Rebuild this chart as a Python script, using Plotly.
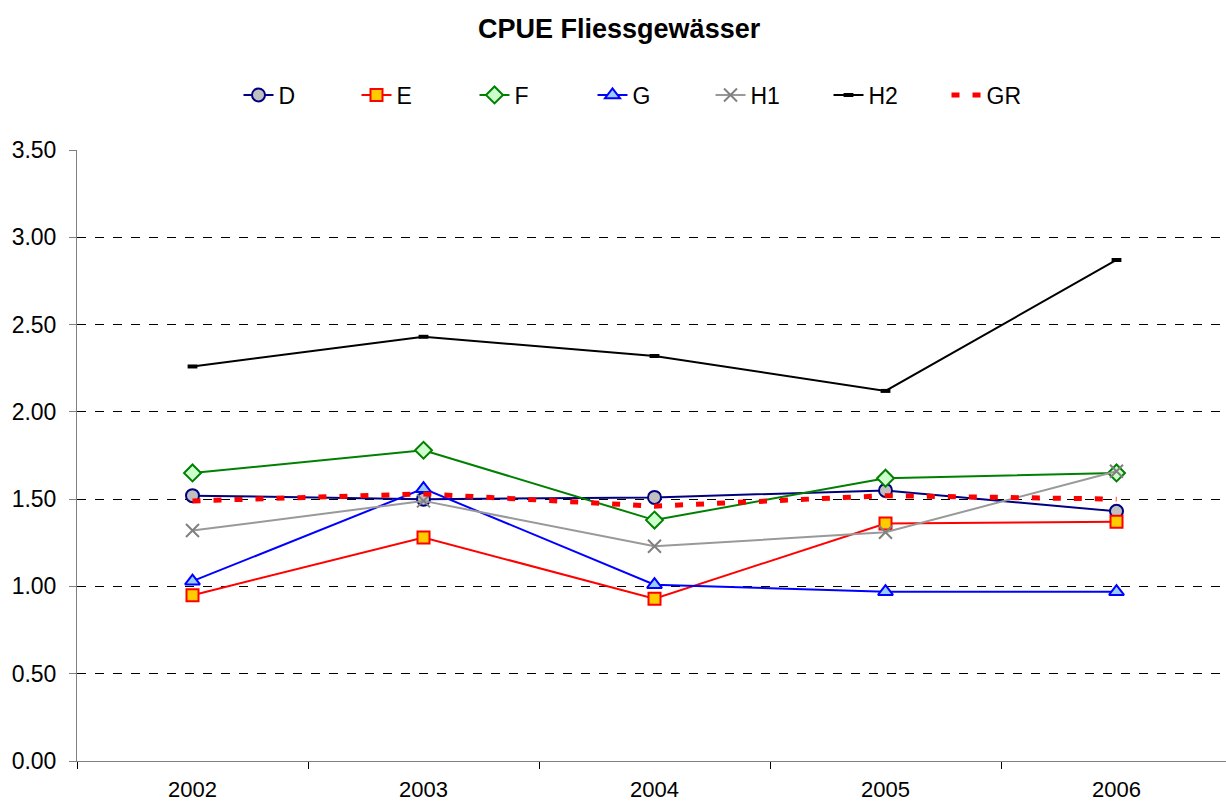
import plotly.graph_objects as go

years = ["2002", "2003", "2004", "2005", "2006"]

cpue_d = [1.52, 1.50, 1.51, 1.55, 1.43]
cpue_e = [0.95, 1.28, 0.93, 1.36, 1.37]
cpue_f = [1.65, 1.78, 1.38, 1.62, 1.65]
cpue_g = [1.03, 1.56, 1.01, 0.97, 0.97]
cpue_h1 = [1.32, 1.49, 1.23, 1.31, 1.66]
cpue_h2 = [2.26, 2.43, 2.32, 2.12, 2.87]
cpue_gr = [1.49, 1.53, 1.46, 1.52, 1.50]

y_ticks = [0, 0.5, 1.0, 1.5, 2.0, 2.5, 3.0, 3.5]

FONT = "Liberation Sans, Arial, sans-serif"

# name, values, line colour, line width, marker symbol, marker fill, marker edge, marker size
series = [
    ("D", cpue_d, "#000080", 2, "circle", "#C0C0C0", "#000080", 13),
    ("E", cpue_e, "#FF0000", 2, "square", "#FFCC00", "#FF0000", 12),
    ("F", cpue_f, "#008000", 2, "diamond", "#CCFFCC", "#008000", 13),
    ("G", cpue_g, "#0000FF", 2, "triangle-up", "#99CCFF", "#0000FF", 13),
    ("H1", cpue_h1, "#999999", 2, "x-thin", "#808080", "#808080", 13),
    ("H2", cpue_h2, "#000000", 2, "line-ew", "#000000", "#000000", 7),
]

fig = go.Figure()

for name, vals, lc, lw, sym, fill, edge, size in series:
    fig.add_trace(go.Scatter(
        x=years, y=vals, name=name,
        mode="lines+markers",
        line=dict(color=lc, width=lw),
        marker=dict(symbol=sym, size=size, color=fill,
                    line=dict(color=edge, width=2 if sym != "line-ew" else 4)),
    ))

fig.add_trace(go.Scatter(
    x=years, y=cpue_gr, name="GR",
    mode="lines",
    line=dict(color="#FF0000", width=5, dash="8px,13px"),
))

fig.update_layout(
    width=1226, height=805,
    paper_bgcolor="white", plot_bgcolor="white",
    font=dict(family=FONT, size=23, color="black"),
    title=dict(text="<b>CPUE Fliessgewässer</b>", x=0.505, xanchor="center",
               y=0.965, yanchor="middle", font=dict(size=27)),
    margin=dict(l=77, r=0, t=150, b=44),
    showlegend=True,
    legend=dict(orientation="h", x=0.5, xanchor="center", y=1.09, yanchor="middle",
                font=dict(size=23), entrywidth=73, entrywidthmode="pixels"),
)

fig.update_xaxes(
    type="category", range=[-0.5, 4.474],
    showline=True, linecolor="#808080", linewidth=1,
    ticks="outside", tickson="boundaries", ticklen=7, tickcolor="#000000",
    ticklabelstandoff=9, tickfont=dict(size=22),
    showgrid=False, zeroline=False, automargin=False,
)

fig.update_yaxes(
    range=[0, 3.5], tickvals=y_ticks, tickformat=".2f",
    showline=True, linecolor="#808080", linewidth=1,
    ticks="outside", ticklen=7, tickcolor="#808080",
    ticklabelstandoff=8,
    showgrid=True, gridcolor="#000000", gridwidth=1, griddash="dash",
    zeroline=False, automargin=False,
)

# drop the default 8px page margin so the figure sits at the window origin
fig.write_html("out.html", config={"displayModeBar": False},
               post_script="document.body.style.margin='0';")
